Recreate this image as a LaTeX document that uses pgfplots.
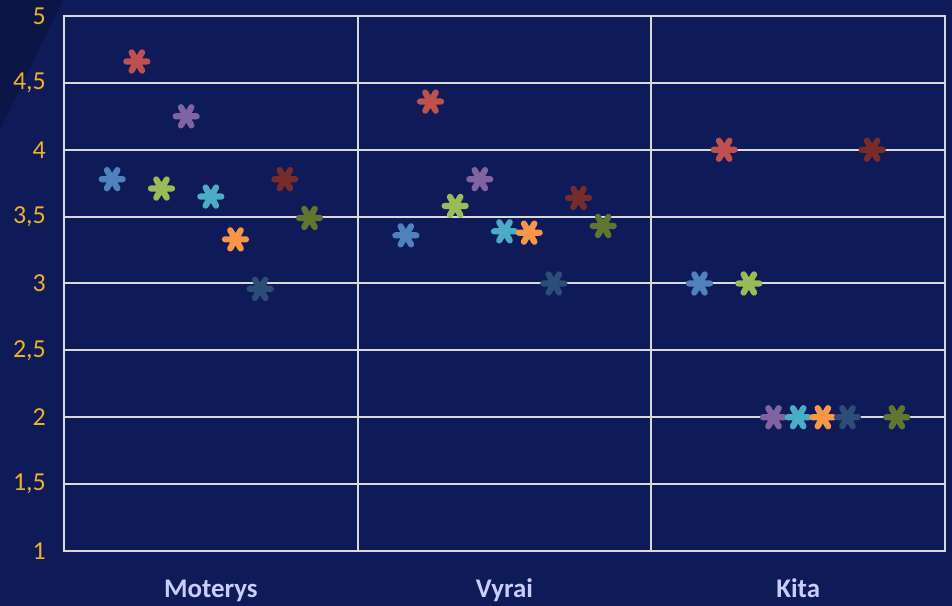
\documentclass[border=0pt]{standalone}
\usepackage{pgfplots}
\pgfplotsset{compat=1.18}
\usepackage{fontspec}
\setmainfont{Carlito}
\definecolor{bgnavy}{HTML}{0F1A58}
\definecolor{bgdark}{HTML}{0B1546}
\definecolor{gridc}{HTML}{D9D9D9}
\definecolor{ytc}{HTML}{EDB227}
\definecolor{xlab}{HTML}{C8CEF5}
\definecolor{c1}{HTML}{4F81BD}
\definecolor{c2}{HTML}{C0504D}
\definecolor{c3}{HTML}{9BBB59}
\definecolor{c4}{HTML}{8064A2}
\definecolor{c5}{HTML}{4BACC6}
\definecolor{c6}{HTML}{F79646}
\definecolor{c7}{HTML}{2C4D75}
\definecolor{c8}{HTML}{772C2A}
\definecolor{c9}{HTML}{5F7530}
\pgfplotsset{
  ast/.style={only marks, mark=asterisk, color=#1, mark size=10.5bp,
    every mark/.append style={solid, rotate=90, line width=6.2bp, line cap=round}}
}
\begin{document}
\begin{tikzpicture}
\fill[bgnavy] (0,0) rectangle (952bp,606bp);
\fill[bgdark] (0,606bp) -- (63bp,606bp) -- (0,476bp) -- cycle;
\begin{axis}[
  at={(64bp,55bp)}, anchor=south west,
  scale only axis, width=881bp, height=535bp,
  xmin=-0.5, xmax=2.5, ymin=1, ymax=5,
  xtick={0,1,2}, xticklabels={Moterys,Vyrai,Kita},
  minor xtick={0.5,1.5}, xminorgrids,
  ytick={1,1.5,2,2.5,3,3.5,4,4.5,5}, ymajorgrids,
  major tick length=0pt, minor tick length=0pt,
  axis line style={draw=gridc, line width=2bp},
  major grid style={draw=gridc, line width=2bp},
  minor grid style={draw=gridc, line width=2bp},
  /pgf/number format/assume math mode=true,
  /pgf/number format/use comma,
  yticklabel style={font=\fontsize{26}{26}\selectfont, text=ytc, anchor=east, inner sep=0pt, xshift=-18bp},
  xticklabel style={font=\bfseries\fontsize{27}{27}\selectfont, text=xlab, anchor=base, inner sep=0pt, yshift=-46bp},
  clip=false,
]
\addplot[ast=c1] coordinates {(-0.336,3.78) (0.664,3.36) (1.664,3.0)};
\addplot[ast=c2] coordinates {(-0.252,4.66) (0.748,4.36) (1.748,4.0)};
\addplot[ast=c3] coordinates {(-0.168,3.71) (0.832,3.58) (1.832,3.0)};
\addplot[ast=c4] coordinates {(-0.084,4.25) (0.916,3.78) (1.916,2.0)};
\addplot[ast=c5] coordinates {(0.000,3.65) (1.000,3.39) (2.000,2.0)};
\addplot[ast=c6] coordinates {(0.084,3.33) (1.084,3.38) (2.084,2.0)};
\addplot[ast=c7] coordinates {(0.168,2.96) (1.168,3.00) (2.168,2.0)};
\addplot[ast=c8] coordinates {(0.252,3.78) (1.252,3.64) (2.252,4.0)};
\addplot[ast=c9] coordinates {(0.336,3.49) (1.336,3.43) (2.336,2.0)};
\end{axis}
\pgfresetboundingbox
\useasboundingbox (0,0) rectangle (952bp,606bp);
\end{tikzpicture}
\end{document}
